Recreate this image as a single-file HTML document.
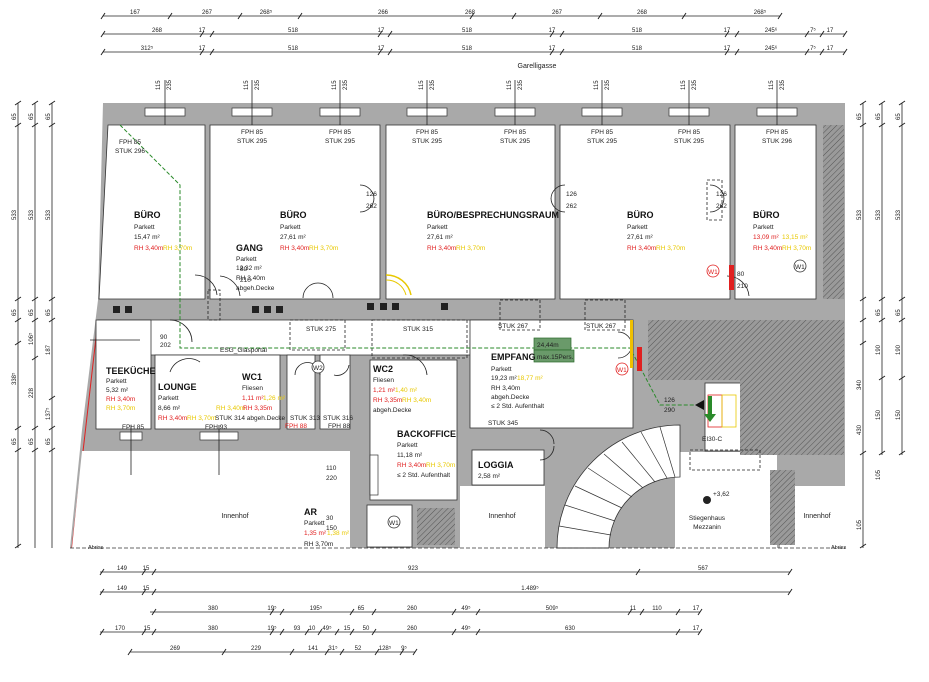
<!DOCTYPE html>
<html><head><meta charset="utf-8"><style>
html,body{margin:0;padding:0;background:#fff;width:929px;height:682px;overflow:hidden}
svg{display:block;font-family:"Liberation Sans",sans-serif}
.s{font-size:6.5px;fill:#222}
.m{font-size:7px;fill:#222}
.r{font-size:7px;fill:#e02020}
.y{font-size:7px;fill:#e8c800}
.h{font-size:9px;font-weight:bold;fill:#111}
.d{font-size:6px;fill:#222}
.l{stroke:#222;stroke-width:0.8;fill:none}
.dash{stroke:#222;stroke-width:0.8;fill:none;stroke-dasharray:3,2}
</style></head><body>
<svg width="929" height="682" viewBox="0 0 929 682" xmlns="http://www.w3.org/2000/svg">
<defs>
<pattern id="hat" width="4" height="4" patternUnits="userSpaceOnUse" patternTransform="rotate(45)">
<rect width="4" height="4" fill="#9a9a9a"/><line x1="0" y1="0" x2="0" y2="4" stroke="#555" stroke-width="1"/></pattern>
</defs>

<!-- top dimension rows -->
<g class="l">
<line x1="103" y1="16" x2="780" y2="16"/>
<line x1="103" y1="34" x2="845" y2="34"/>
<line x1="103" y1="52" x2="845" y2="52"/>
</g>
<g stroke="#222" stroke-width="1">
<path d="M101 19l4-6M168 19l4-6M238 19l4-6M298 19l4-6M470 19l4-6M512 19l4-6M598 19l4-6M682 19l4-6M778 19l4-6"/>
<path d="M101 37l4-6M200 37l4-6M210 37l4-6M378 37l4-6M388 37l4-6M550 37l4-6M560 37l4-6M725 37l4-6M735 37l4-6M805 37l4-6M820 37l4-6M843 37l4-6"/>
<path d="M101 55l4-6M200 55l4-6M210 55l4-6M378 55l4-6M388 55l4-6M550 55l4-6M560 55l4-6M725 55l4-6M735 55l4-6M805 55l4-6M820 55l4-6M843 55l4-6"/>
</g>
<g class="d" text-anchor="middle">
<text x="135" y="14">167</text><text x="207" y="14">267</text><text x="266" y="14">268⁵</text><text x="383" y="14">266</text><text x="470" y="14">268</text><text x="557" y="14">267</text><text x="642" y="14">268</text><text x="760" y="14">268⁵</text>
<text x="157" y="32">268</text><text x="202" y="32">17</text><text x="293" y="32">518</text><text x="381" y="32">17</text><text x="467" y="32">518</text><text x="552" y="32">17</text><text x="637" y="32">518</text><text x="727" y="32">17</text><text x="771" y="32">245⁶</text><text x="813" y="32">7⁵</text><text x="830" y="32">17</text>
<text x="147" y="50">312⁵</text><text x="202" y="50">17</text><text x="293" y="50">518</text><text x="381" y="50">17</text><text x="467" y="50">518</text><text x="552" y="50">17</text><text x="637" y="50">518</text><text x="727" y="50">17</text><text x="771" y="50">245⁶</text><text x="813" y="50">7⁵</text><text x="830" y="50">17</text>
</g>
<text x="537" y="68" class="m" text-anchor="middle">Garelligasse</text>

<!-- window dims above -->
<g class="d">
<g transform="translate(160,90) rotate(-90)"><text>115</text></g><g transform="translate(171,90) rotate(-90)"><text>235</text></g>
<g transform="translate(248,90) rotate(-90)"><text>115</text></g><g transform="translate(259,90) rotate(-90)"><text>235</text></g>
<g transform="translate(336,90) rotate(-90)"><text>115</text></g><g transform="translate(347,90) rotate(-90)"><text>235</text></g>
<g transform="translate(423,90) rotate(-90)"><text>115</text></g><g transform="translate(434,90) rotate(-90)"><text>235</text></g>
<g transform="translate(511,90) rotate(-90)"><text>115</text></g><g transform="translate(522,90) rotate(-90)"><text>235</text></g>
<g transform="translate(598,90) rotate(-90)"><text>115</text></g><g transform="translate(609,90) rotate(-90)"><text>235</text></g>
<g transform="translate(685,90) rotate(-90)"><text>115</text></g><g transform="translate(696,90) rotate(-90)"><text>235</text></g>
<g transform="translate(773,90) rotate(-90)"><text>115</text></g><g transform="translate(784,90) rotate(-90)"><text>235</text></g>
</g>

<!-- building gray mass -->
<polygon points="103,103 845,103 845,548 70,548 82,430 98,300" fill="#a9a9a9"/>
<!-- left red line -->
<line x1="98" y1="320" x2="72" y2="548" stroke="#e02020" stroke-width="1"/>

<!-- rooms top row -->
<g fill="#fff" stroke="#333" stroke-width="0.8">
<polygon points="108,125 205,125 205,299 99,299"/>
<rect x="210" y="125" width="170" height="174"/>
<rect x="386" y="125" width="169" height="174"/>
<rect x="560" y="125" width="170" height="174"/>
<rect x="735" y="125" width="81" height="174"/>
<!-- corridor -->
<polygon points="98,320 630,320 630,340 470,340 470,355 98,355"/>
<rect x="470" y="320" width="163" height="108"/>
<!-- lower rooms -->
<rect x="96" y="320" width="55" height="109"/>
<rect x="155" y="355" width="125" height="74"/>
<rect x="287" y="355" width="28" height="74"/>
<rect x="320" y="355" width="30" height="74"/>
<rect x="370" y="360" width="87" height="140"/>
<rect x="472" y="450" width="72" height="35"/>
<rect x="705" y="383" width="58" height="68"/>
</g>
<!-- innenhof -->
<g fill="#fff">
<polygon points="82,451 350,451 350,548 72,548"/>
<rect x="460" y="486" width="85" height="62"/>
<rect x="780" y="486" width="65" height="62"/>
<rect x="675" y="452" width="102" height="96"/>
</g>
<!-- hatched zones -->
<rect x="823" y="125" width="21" height="174" fill="url(#hat)"/>
<rect x="648" y="320" width="92" height="60" fill="url(#hat)"/>
<rect x="740" y="320" width="104" height="135" fill="url(#hat)"/>
<rect x="770" y="470" width="25" height="75" fill="url(#hat)"/>
<rect x="417" y="508" width="38" height="37" fill="url(#hat)"/>
<rect x="367" y="505" width="45" height="42" fill="#fff" stroke="#333" stroke-width="0.8"/>

<!-- staircase -->
<path d="M557,548 A123,123 0 0 1 680,425 L680,477 A71,71 0 0 0 609,548 Z" fill="#fff" stroke="#333" stroke-width="0.8"/>
<g stroke="#333" stroke-width="0.7">
<path d="M557 548L609 548M559 526L611 535M565 505L615 521M575 486L622 508M588 468L632 497M604 454L643 488M622 442L655 482M641 432L667 478M660 427L675 477"/>
</g>

<!-- windows top -->
<g fill="#fff" stroke="#333" stroke-width="0.7">
<rect x="145" y="108" width="40" height="8"/><rect x="232" y="108" width="40" height="8"/><rect x="320" y="108" width="40" height="8"/><rect x="407" y="108" width="40" height="8"/><rect x="495" y="108" width="40" height="8"/><rect x="582" y="108" width="40" height="8"/><rect x="669" y="108" width="40" height="8"/><rect x="757" y="108" width="40" height="8"/>
<rect x="120" y="432" width="22" height="8"/><rect x="200" y="432" width="38" height="8"/><rect x="370" y="455" width="8" height="40"/>
</g>
<g class="l">
<line x1="165" y1="80" x2="165" y2="125"/><line x1="252" y1="80" x2="252" y2="125"/><line x1="340" y1="80" x2="340" y2="125"/><line x1="427" y1="80" x2="427" y2="125"/><line x1="515" y1="80" x2="515" y2="125"/><line x1="602" y1="80" x2="602" y2="125"/><line x1="689" y1="80" x2="689" y2="125"/><line x1="777" y1="80" x2="777" y2="125"/>
<line x1="131" y1="425" x2="131" y2="475"/><line x1="219" y1="425" x2="219" y2="475"/>
</g>

<!-- doors -->
<g class="l">
<path d="M360 185a14 14 0 0 1 14 14M360 212a14 14 0 0 0 14-14"/>
<path d="M710 185a14 14 0 0 1 14 14M710 212a14 14 0 0 0 14-14"/>
<path d="M565 185a14 14 0 0 0-14 14M565 212a14 14 0 0 1-14-14"/>
<path d="M170 320a22 22 0 0 1 22 22M90 340h50M195 275a22 22 0 0 1 22 20M220 276a22 22 0 0 1 20 20M303 298a15 15 0 0 1 30 0M727 276a22 22 0 0 1 22 20"/>
<path d="M170 372a20 20 0 0 1 30-10M295 375a12 12 0 0 1 25 0M334 375a12 12 0 0 0 15-10M403 355a22 22 0 0 1 24 20M618 332a14 14 0 0 1 14 14M618 358a14 14 0 0 0 14-12M540 430a14 14 0 0 1 14 14M540 460a14 14 0 0 0 14-14"/>
</g>
<path d="M386 275a25 25 0 0 1 25 20" stroke="#e8c800" stroke-width="1.5" fill="none"/>
<path d="M386 280a20 20 0 0 1 20 15" stroke="#e8c800" stroke-width="1" fill="none"/>
<g class="dash">
<rect x="208" y="290" width="12" height="30"/><rect x="290" y="320" width="55" height="30"/><rect x="500" y="300" width="40" height="30"/><rect x="585" y="300" width="40" height="30"/>
<rect x="372" y="320" width="95" height="38"/><rect x="690" y="450" width="70" height="20"/><rect x="707" y="180" width="15" height="40"/>
</g>

<!-- green escape path -->
<polyline points="120,125 180,185 180,348 630,348 660,405 695,405" fill="none" stroke="#2a8a2a" stroke-width="1" stroke-dasharray="4,2"/>
<rect x="534" y="338" width="37" height="12" fill="#6a9a6a" stroke="#2a6a2a" stroke-width="0.7"/>
<rect x="534" y="350" width="40" height="12" fill="#6a9a6a" stroke="#2a6a2a" stroke-width="0.7"/>
<text x="537" y="347" class="s">24,44m</text>
<text x="537" y="359" class="s">max.15Pers.</text>
<path d="M695 405l9-5v10z" fill="#111"/>
<rect x="708" y="395" width="14" height="32" fill="none" stroke="#e02020" stroke-width="0.8"/>
<rect x="722" y="395" width="14" height="32" fill="none" stroke="#e8c800" stroke-width="0.8"/>
<path d="M708 396v18h-4l6 8 6-8h-4v-18z" fill="#2a8a2a"/>

<!-- red/yellow fire bars -->
<rect x="630" y="320" width="3" height="48" fill="#f0c000"/>
<rect x="637" y="347" width="5" height="24" fill="#e02020"/>
<rect x="729" y="265" width="5" height="25" fill="#e02020"/>
<g fill="#fff" stroke="#e02020" stroke-width="0.8"><circle cx="622" cy="369" r="6"/><circle cx="713" cy="271" r="6"/></g>
<text x="617" y="372" class="s" fill="#e02020" style="fill:#e02020">W1</text>
<text x="708" y="274" class="s" style="fill:#e02020">W1</text>
<g fill="#fff" stroke="#333" stroke-width="0.8"><circle cx="800" cy="266" r="6"/><circle cx="394" cy="522" r="6"/><circle cx="318" cy="367" r="6"/></g>
<text x="795" y="269" class="s">W1</text><text x="389" y="525" class="s">W1</text><text x="313" y="370" class="s">W2</text>

<!-- small black squares -->
<g fill="#222"><rect x="113" y="306" width="7" height="7"/><rect x="125" y="306" width="7" height="7"/><rect x="252" y="306" width="7" height="7"/><rect x="264" y="306" width="7" height="7"/><rect x="276" y="306" width="7" height="7"/><rect x="367" y="303" width="7" height="7"/><rect x="380" y="303" width="7" height="7"/><rect x="392" y="303" width="7" height="7"/><rect x="441" y="303" width="7" height="7"/></g>

<!-- labels rooms -->
<g>
<text x="134" y="218" class="h">BÜRO</text><text x="134" y="229" class="s">Parkett</text><text x="134" y="239" class="s">15,47 m²</text><text x="134" y="250" class="r" style="font-size:6.5px">RH 3,40m</text><text x="163" y="250" class="y" style="font-size:6.5px">RH 3,70m</text>
<text x="280" y="218" class="h">BÜRO</text><text x="280" y="229" class="s">Parkett</text><text x="280" y="239" class="s">27,61 m²</text><text x="280" y="250" class="r" style="font-size:6.5px">RH 3,40m</text><text x="309" y="250" class="y" style="font-size:6.5px">RH 3,70m</text>
<text x="427" y="218" class="h">BÜRO/BESPRECHUNGSRAUM</text><text x="427" y="229" class="s">Parkett</text><text x="427" y="239" class="s">27,61 m²</text><text x="427" y="250" class="r" style="font-size:6.5px">RH 3,40m</text><text x="456" y="250" class="y" style="font-size:6.5px">RH 3,70m</text>
<text x="627" y="218" class="h">BÜRO</text><text x="627" y="229" class="s">Parkett</text><text x="627" y="239" class="s">27,61 m²</text><text x="627" y="250" class="r" style="font-size:6.5px">RH 3,40m</text><text x="656" y="250" class="y" style="font-size:6.5px">RH 3,70m</text>
<text x="753" y="218" class="h">BÜRO</text><text x="753" y="229" class="s">Parkett</text><text x="753" y="239" class="r" style="font-size:6.5px">13,09 m²</text><text x="782" y="239" class="y" style="font-size:6.5px">13,15 m²</text><text x="753" y="250" class="r" style="font-size:6.5px">RH 3,40m</text><text x="782" y="250" class="y" style="font-size:6.5px">RH 3,70m</text>
<text x="236" y="251" class="h">GANG</text><text x="236" y="261" class="s">Parkett</text><text x="236" y="270" class="s">12,32 m²</text><text x="236" y="280" class="s">RH 3,40m</text><text x="236" y="290" class="s">abgeh.Decke</text>
<text x="106" y="374" class="h">TEEKÜCHE</text><text x="106" y="383" class="s">Parkett</text><text x="106" y="392" class="s">5,32 m²</text><text x="106" y="401" class="r" style="font-size:6.5px">RH 3,40m</text><text x="106" y="410" class="y" style="font-size:6.5px">RH 3,70m</text>
<text x="158" y="390" class="h">LOUNGE</text><text x="158" y="400" class="s">Parkett</text><text x="158" y="410" class="s">8,66 m²</text><text x="158" y="420" class="r" style="font-size:6.5px">RH 3,40m</text><text x="187" y="420" class="y" style="font-size:6.5px">RH 3,70m</text><text x="215" y="420" class="s">STUK 314 abgeh.Decke</text>
<text x="242" y="380" class="h">WC1</text><text x="242" y="390" class="s">Fliesen</text><text x="242" y="400" class="r" style="font-size:6.5px">1,11 m²</text><text x="263" y="400" class="y" style="font-size:6.5px">1,26 m²</text><text x="216" y="410" class="y" style="font-size:6.5px">RH 3,40m</text><text x="243" y="410" class="r" style="font-size:6.5px">RH 3,35m</text>
<text x="373" y="372" class="h">WC2</text><text x="373" y="382" class="s">Fliesen</text><text x="373" y="392" class="r" style="font-size:6.5px">1,21 m²</text><text x="395" y="392" class="y" style="font-size:6.5px">1,40 m²</text><text x="373" y="402" class="r" style="font-size:6.5px">RH 3,35m</text><text x="402" y="402" class="y" style="font-size:6.5px">RH 3,40m</text><text x="373" y="412" class="s">abgeh.Decke</text>
<text x="397" y="437" class="h">BACKOFFICE</text><text x="397" y="447" class="s">Parkett</text><text x="397" y="457" class="s">11,18 m²</text><text x="397" y="467" class="r" style="font-size:6.5px">RH 3,40m</text><text x="426" y="467" class="y" style="font-size:6.5px">RH 3,70m</text><text x="397" y="477" class="s">≤ 2 Std. Aufenthalt</text>
<text x="491" y="360" class="h">EMPFANG</text><text x="491" y="371" class="s">Parkett</text><text x="491" y="380" class="s">19,23 m²</text><text x="517" y="380" class="y" style="font-size:6.5px">18,77 m²</text><text x="491" y="390" class="s">RH 3,40m</text><text x="491" y="399" class="s">abgeh.Decke</text><text x="491" y="408" class="s">≤ 2 Std. Aufenthalt</text>
<text x="478" y="468" class="h">LOGGIA</text><text x="478" y="478" class="s">2,58 m²</text>
<text x="304" y="515" class="h">AR</text><text x="304" y="525" class="s">Parkett</text><text x="304" y="535" class="r" style="font-size:6.5px">1,35 m²</text><text x="327" y="535" class="y" style="font-size:6.5px">1,38 m²</text><text x="304" y="546" class="s">RH 3,70m</text>
<text x="235" y="518" class="m" text-anchor="middle">Innenhof</text>
<text x="502" y="518" class="m" text-anchor="middle">Innenhof</text>
<text x="817" y="518" class="m" text-anchor="middle">Innenhof</text>
<text x="707" y="520" class="s" text-anchor="middle">Stiegenhaus</text><text x="707" y="529" class="s" text-anchor="middle">Mezzanin</text>
<circle cx="707" cy="500" r="4" fill="#222"/><text x="713" y="496" class="s">+3,62</text>
<text x="702" y="441" class="s">EI30-C</text>
<text x="220" y="352" class="s">ESG_Glasportal</text>
<text x="290" y="420" class="s">STUK 313</text><text x="323" y="420" class="s">STUK 316</text>
<text x="285" y="428" class="s" style="fill:#e02020">FPH 88</text><text x="328" y="428" class="s">FPH 88</text>
<text x="122" y="429" class="s">FPH 85</text><text x="205" y="429" class="s">FPH 93</text>
<text x="306" y="331" class="s">STUK 275</text><text x="403" y="331" class="s">STUK 315</text><text x="498" y="328" class="s">STUK 267</text><text x="586" y="328" class="s">STUK 267</text><text x="488" y="425" class="s">STUK 345</text>
<text x="88" y="549" class="s" style="font-size:5.5px">Abriss</text><text x="831" y="549" class="s" style="font-size:5.5px">Abriss</text>
<text x="160" y="339" class="s">90</text><text x="160" y="347" class="s">202</text>
<text x="240" y="271" class="s">80</text><text x="240" y="282" class="s">210</text>
<text x="737" y="276" class="s">80</text><text x="737" y="288" class="s">210</text>
<text x="366" y="196" class="s">126</text><text x="366" y="208" class="s">262</text>
<text x="566" y="196" class="s">126</text><text x="566" y="208" class="s">262</text>
<text x="716" y="196" class="s">126</text><text x="716" y="208" class="s">262</text>
<text x="664" y="402" class="s">126</text><text x="664" y="412" class="s">290</text>
<text x="326" y="470" class="s">110</text><text x="326" y="480" class="s">220</text>
<text x="326" y="520" class="s">30</text><text x="326" y="530" class="s">150</text>
</g>
<g class="s">
<text x="130" y="144" text-anchor="middle">FPH 85</text><text x="130" y="153" text-anchor="middle">STUK 296</text>
<text x="252" y="134" text-anchor="middle">FPH 85</text><text x="252" y="143" text-anchor="middle">STUK 295</text>
<text x="340" y="134" text-anchor="middle">FPH 85</text><text x="340" y="143" text-anchor="middle">STUK 295</text>
<text x="427" y="134" text-anchor="middle">FPH 85</text><text x="427" y="143" text-anchor="middle">STUK 295</text>
<text x="515" y="134" text-anchor="middle">FPH 85</text><text x="515" y="143" text-anchor="middle">STUK 295</text>
<text x="602" y="134" text-anchor="middle">FPH 85</text><text x="602" y="143" text-anchor="middle">STUK 295</text>
<text x="689" y="134" text-anchor="middle">FPH 85</text><text x="689" y="143" text-anchor="middle">STUK 295</text>
<text x="777" y="134" text-anchor="middle">FPH 85</text><text x="777" y="143" text-anchor="middle">STUK 296</text>
</g>

<!-- left/right vertical dims -->
<g class="l">
<line x1="18" y1="103" x2="18" y2="548"/><line x1="35" y1="103" x2="35" y2="548"/><line x1="52" y1="103" x2="52" y2="548"/>
<line x1="863" y1="103" x2="863" y2="548"/><line x1="882" y1="103" x2="882" y2="455"/><line x1="902" y1="103" x2="902" y2="455"/>
</g>
<g stroke="#222" stroke-width="1">
<path d="M15 105l6-4M15 127l6-4M15 301l6-4M15 322l6-4M15 345l6-4M15 430l6-4M15 452l6-4M15 548l6-4"/>
<path d="M32 105l6-4M32 127l6-4M32 301l6-4M32 322l6-4M32 360l6-4M32 430l6-4M32 452l6-4"/>
<path d="M49 105l6-4M49 127l6-4M49 301l6-4M49 322l6-4M49 400l6-4M49 430l6-4M49 452l6-4"/>
<path d="M860 105l6-4M860 127l6-4M860 301l6-4M860 322l6-4M860 345l6-4M860 455l6-4M860 548l6-4"/>
<path d="M879 105l6-4M879 127l6-4M879 301l6-4M879 322l6-4M879 380l6-4M879 455l6-4"/>
<path d="M899 105l6-4M899 127l6-4M899 301l6-4M899 322l6-4M899 380l6-4M899 455l6-4"/>
</g>
<g class="d">
<g transform="translate(16,120) rotate(-90)"><text>65</text></g><g transform="translate(33,120) rotate(-90)"><text>65</text></g><g transform="translate(50,120) rotate(-90)"><text>65</text></g>
<g transform="translate(16,220) rotate(-90)"><text>533</text></g><g transform="translate(33,220) rotate(-90)"><text>533</text></g><g transform="translate(50,220) rotate(-90)"><text>533</text></g>
<g transform="translate(16,316) rotate(-90)"><text>65</text></g><g transform="translate(33,316) rotate(-90)"><text>65</text></g><g transform="translate(50,316) rotate(-90)"><text>65</text></g>
<g transform="translate(16,385) rotate(-90)"><text>338⁵</text></g><g transform="translate(33,398) rotate(-90)"><text>228</text></g><g transform="translate(50,355) rotate(-90)"><text>187</text></g>
<g transform="translate(33,345) rotate(-90)"><text>106⁵</text></g><g transform="translate(50,420) rotate(-90)"><text>137⁵</text></g>
<g transform="translate(16,445) rotate(-90)"><text>65</text></g><g transform="translate(33,445) rotate(-90)"><text>65</text></g><g transform="translate(50,445) rotate(-90)"><text>65</text></g>
<g transform="translate(861,120) rotate(-90)"><text>65</text></g><g transform="translate(880,120) rotate(-90)"><text>65</text></g><g transform="translate(900,120) rotate(-90)"><text>65</text></g>
<g transform="translate(861,220) rotate(-90)"><text>533</text></g><g transform="translate(880,220) rotate(-90)"><text>533</text></g><g transform="translate(900,220) rotate(-90)"><text>533</text></g>
<g transform="translate(880,316) rotate(-90)"><text>65</text></g><g transform="translate(900,316) rotate(-90)"><text>65</text></g>
<g transform="translate(861,390) rotate(-90)"><text>340</text></g><g transform="translate(880,355) rotate(-90)"><text>190</text></g><g transform="translate(900,355) rotate(-90)"><text>190</text></g>
<g transform="translate(880,420) rotate(-90)"><text>150</text></g><g transform="translate(900,420) rotate(-90)"><text>150</text></g>
<g transform="translate(861,435) rotate(-90)"><text>430</text></g><g transform="translate(880,480) rotate(-90)"><text>105</text></g><g transform="translate(861,530) rotate(-90)"><text>105</text></g>
</g>

<!-- bottom dims -->
<g class="l">
<line x1="100" y1="572" x2="790" y2="572"/><line x1="100" y1="592" x2="790" y2="592"/><line x1="150" y1="612" x2="700" y2="612"/><line x1="100" y1="632" x2="700" y2="632"/><line x1="130" y1="652" x2="415" y2="652"/>
</g>
<g stroke="#222" stroke-width="1">
<path d="M100 575l4-6M142 575l4-6M152 575l4-6M636 575l4-6M788 575l4-6"/>
<path d="M100 595l4-6M142 595l4-6M152 595l4-6M788 595l4-6"/>
<path d="M152 615l4-6M270 615l4-6M280 615l4-6M350 615l4-6M372 615l4-6M452 615l4-6M476 615l4-6M628 615l4-6M640 615l4-6M676 615l4-6M698 615l4-6"/>
<path d="M100 635l4-6M142 635l4-6M152 635l4-6M270 635l4-6M280 635l4-6M305 635l4-6M318 635l4-6M335 635l4-6M350 635l4-6M372 635l4-6M452 635l4-6M476 635l4-6M676 635l4-6M698 635l4-6"/>
<path d="M128 655l4-6M222 655l4-6M290 655l4-6M325 655l4-6M340 655l4-6M375 655l4-6M400 655l4-6M413 655l4-6"/>
</g>
<g class="d" text-anchor="middle">
<text x="122" y="570">149</text><text x="146" y="570">15</text><text x="413" y="570">923</text><text x="703" y="570">567</text>
<text x="122" y="590">149</text><text x="146" y="590">15</text><text x="530" y="590">1.489⁵</text>
<text x="213" y="610">380</text><text x="272" y="610">19⁵</text><text x="316" y="610">195⁵</text><text x="361" y="610">65</text><text x="412" y="610">260</text><text x="466" y="610">49⁵</text><text x="552" y="610">509⁵</text><text x="633" y="610">11</text><text x="657" y="610">110</text><text x="696" y="610">17</text>
<text x="120" y="630">170</text><text x="147" y="630">15</text><text x="213" y="630">380</text><text x="272" y="630">19⁵</text><text x="297" y="630">93</text><text x="312" y="630">10</text><text x="327" y="630">49⁵</text><text x="347" y="630">15</text><text x="366" y="630">50</text><text x="412" y="630">260</text><text x="466" y="630">49⁵</text><text x="570" y="630">630</text><text x="696" y="630">17</text>
<text x="175" y="650">269</text><text x="256" y="650">229</text><text x="313" y="650">141</text><text x="333" y="650">31⁵</text><text x="358" y="650">52</text><text x="385" y="650">128⁵</text><text x="404" y="650">9⁵</text>
</g>
<line x1="70" y1="548" x2="845" y2="548" stroke="#333" stroke-width="0.8" stroke-dasharray="4,2"/>
</svg>
</body></html>
